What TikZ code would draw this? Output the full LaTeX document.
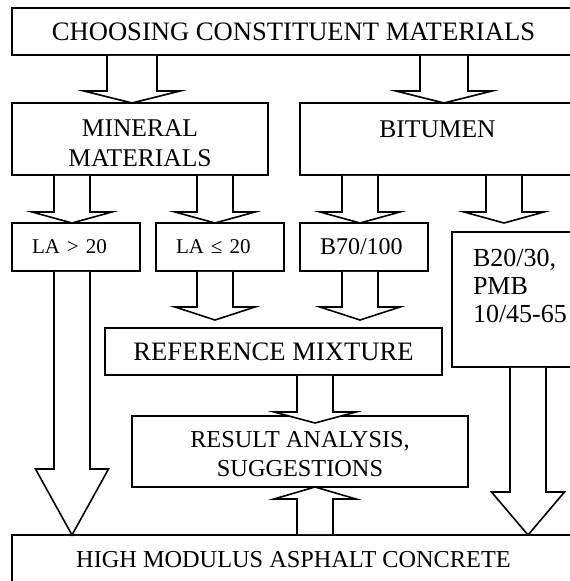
\documentclass[tikz,border=0pt]{standalone}
\usepackage{fontspec}
\setmainfont{Liberation Serif}
\usetikzlibrary{calc}

% #1 shaft half width, #2 head half width, #3 head length, #4 from, #5 to
\newcommand{\fatarrow}[5]{%
  \filldraw[fatarr] let \p1=(#4), \p2=(#5), \n1={sign(\y1-\y2)} in
    (\x1-#1pt,\y1-\n1*0.8pt) -- (\x1-#1pt,\y2+\n1*#3pt) -- (\x1-#2pt,\y2+\n1*#3pt)
    -- (\x1,\y2) -- (\x1+#2pt,\y2+\n1*#3pt) -- (\x1+#1pt,\y2+\n1*#3pt)
    -- (\x1+#1pt,\y1-\n1*0.8pt);}

\begin{document}
\begin{tikzpicture}[x=1pt,y=-1pt,
  box/.style={draw,line width=1.8pt,inner sep=0pt,outer sep=0pt,anchor=north west},
  fatarr/.style={draw=black,fill=white,line width=1.6pt,line join=miter},
  bigtext/.style={font=\fontsize{26.6}{31}\selectfont},
  midtext/.style={font=\fontsize{24.3}{29}\selectfont},
  smalltext/.style={font=\fontsize{21}{25}\selectfont}]
\clip (0,0) rectangle (570,581);

% boxes
\node[box,bigtext,minimum width=563,minimum height=47] (choose) at (12,8)
  {CHOOSING CONSTITUENT MATERIALS};
\node[box,font=\fontsize{25.5}{30}\selectfont,align=center,minimum width=256,minimum height=72]
  (mineral) at (12,103) {\rule{0pt}{26pt}MINERAL\\MATERIALS};
\node[box,font=\fontsize{25.5}{30}\selectfont,align=center,minimum width=275,minimum height=72]
  (bitumen) at (300,103) {\rule{0pt}{26pt}BITUMEN\\\mbox{}};
\node[box,smalltext,text width=88,inner xsep=20,align=left,minimum height=48]
  (lahigh) at (12,223) {LA > 20};
\node[box,smalltext,text width=88,inner xsep=20,align=left,minimum height=48]
  (lalow) at (156,223) {LA ≤ 20};
\node[box,font=\fontsize{24}{28}\selectfont,text width=88,inner xsep=20,align=left,minimum height=48]
  (soft) at (300,223) {B70/100};
\node[box,font=\fontsize{26}{28}\selectfont,text width=100,inner xsep=21,align=left,minimum height=135]
  (hard) at (452,232) {B20/30,\\PMB\\10/45-65\\\mbox{}};
\node[box,bigtext,minimum width=337,minimum height=47] (refmix) at (105,328)
  {REFERENCE MIXTURE};
\node[box,midtext,align=center,minimum width=336,minimum height=71] (result) at (132,416)
  {\rule{0pt}{22pt}RESULT ANALYSIS,\\SUGGESTIONS};
\node[box,midtext,minimum width=563,minimum height=50] (hmac) at (12,535)
  {HIGH MODULUS ASPHALT CONCRETE};

% block arrows
\fatarrow{25}{48}{12}{132,0 |- choose.south}{132,0 |- mineral.north}
\fatarrow{24}{48}{12}{444,0 |- choose.south}{444,0 |- bitumen.north}
\fatarrow{18}{40}{11}{72,0 |- mineral.south}{72,0 |- lahigh.north}
\fatarrow{18}{40}{11}{215,0 |- mineral.south}{215,0 |- lalow.north}
\fatarrow{18}{40}{11}{360,0 |- bitumen.south}{360,0 |- soft.north}
\fatarrow{18}{40}{11}{504,0 |- bitumen.south}{$(504,0 |- hard.north)+(0,-9)$}
\fatarrow{18}{40}{13}{215,0 |- lalow.south}{$(215,0 |- refmix.north)+(0,-8)$}
\fatarrow{18}{40}{13}{360,0 |- soft.south}{$(360,0 |- refmix.north)+(0,-8)$}
\fatarrow{18}{41}{11}{315,0 |- refmix.south}{$(315,0 |- result.north)+(0,7)$}
\fatarrow{18}{41}{12}{315,0 |- hmac.north}{315,0 |- result.south} % feedback
\fatarrow{18}{36.5}{66}{72,0 |- lahigh.south}{72,0 |- hmac.north}
\fatarrow{18}{36.5}{43}{528,0 |- hard.south}{528,0 |- hmac.north}
\end{tikzpicture}
\end{document}
